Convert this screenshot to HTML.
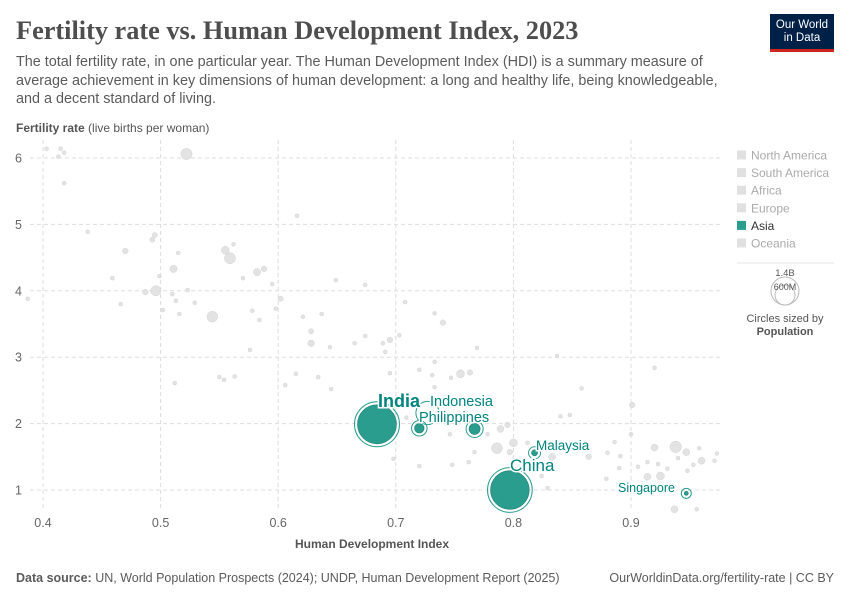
<!DOCTYPE html>
<html><head><meta charset="utf-8"><style>
body{margin:0;background:#fff;font-family:"Liberation Sans",sans-serif;}
#wrap{position:relative;width:850px;height:600px;overflow:hidden}
.t{position:absolute;white-space:nowrap}
</style></head><body>
<div id="wrap">
<div class="t" style="left:16px;top:16px;font-family:'Liberation Serif',serif;font-size:26.3px;font-weight:bold;color:#4e4e4e">Fertility rate vs. Human Development Index, 2023</div>
<div class="t" style="left:16px;top:53px;font-size:14.4px;line-height:18.5px;color:#5b5b5b">The total fertility rate, in one particular year. The Human Development Index (HDI) is a summary measure of<br>average achievement in key dimensions of human development: a long and healthy life, being knowledgeable,<br>and a decent standard of living.</div>
<div style="position:absolute;left:770px;top:14px;width:64px;height:38px;background:#002147;border-bottom:3px solid #ce261e;color:#fff;font-size:11.5px;line-height:13px;text-align:center;padding-top:5px;box-sizing:border-box">Our World<br>in Data</div>
<div class="t" style="left:16px;top:121px;font-size:12px;color:#555"><b>Fertility rate</b> (live births per woman)</div>
<div class="t" style="left:295px;top:537px;font-size:12px;font-weight:bold;color:#555">Human Development Index</div>
<div class="t" style="left:16px;top:571px;font-size:12.5px;color:#5b5b5b"><b>Data source:</b> UN, World Population Prospects (2024); UNDP, Human Development Report (2025)</div>
<div class="t" style="right:16px;top:571px;font-size:12.5px;color:#5b5b5b">OurWorldinData.org/fertility-rate | CC BY</div>
<svg id="chart" width="850" height="600" style="position:absolute;left:0;top:0" font-family="Liberation Sans, sans-serif"></svg>
</div>
<script>
const xTicks=[0.4,0.5,0.6,0.7,0.8,0.9];
const xTickLabels=["0.4","0.5","0.6","0.7","0.8","0.9"];
const yTicks=[1,2,3,4,5,6];
const yTickLabels=["1","2","3","4","5","6"];
const grayHdi=[.403,.415,.413,.418,.418,.522,.616,.438,.495,.493,.470,.515,.555,.559,.562,.511,.582,.588,.570,.595,.459,.499,.649,.674,.487,.496,.510,.523,.513,.529,.466,.502,.516,.544,.602,.598,.578,.584,.621,.637,.708,.628,.628,.644,.665,.674,.689,.695,.691,.703,.576,.695,.720,.387,.512,.550,.554,.563,.615,.634,.606,.645,.733,.740,.769,.837,.920,.731,.733,.747,.755,.763,.733,.858,.901,.709,.840,.848,.795,.789,.778,.746,.900,.786,.800,.812,.797,.767,.762,.698,.720,.748,.833,.864,.880,.886,.891,.890,.879,.824,.906,.914,.920,.923,.931,.938,.947,.940,.948,.953,.960,.958,.971,.973,.914,.925,.937,.956,.829];
const grayTfr=[6.14,6.14,6.02,6.08,5.62,6.06,5.13,4.89,4.84,4.77,4.6,4.57,4.61,4.49,4.70,4.33,4.28,4.33,4.19,4.10,4.19,4.22,4.16,4.09,3.98,4.0,3.95,4.01,3.85,3.82,3.80,3.71,3.65,3.61,3.88,3.73,3.70,3.56,3.61,3.65,3.83,3.39,3.21,3.15,3.21,3.32,3.21,3.26,3.08,3.33,3.11,2.76,2.81,3.88,2.61,2.70,2.66,2.71,2.75,2.70,2.58,2.52,3.66,3.52,3.14,3.02,2.84,2.73,2.93,2.69,2.75,2.77,2.55,2.53,2.28,2.09,2.11,2.13,1.98,1.92,1.84,1.84,1.84,1.63,1.71,1.71,1.57,1.57,1.42,1.47,1.36,1.38,1.50,1.50,1.56,1.72,1.51,1.33,1.17,1.21,1.35,1.42,1.64,1.39,1.32,1.65,1.57,1.48,1.29,1.38,1.44,1.63,1.44,1.55,1.20,1.21,0.71,0.71,1.03];
const grayPop=[15,15,15,15,15,120,15,15,25,25,30,15,60,115,15,50,50,30,15,15,15,15,15,15,30,100,15,15,15,15,15,15,15,110,25,15,15,15,15,15,15,25,40,15,15,15,15,30,15,15,15,15,15,15,15,15,15,15,15,15,15,15,15,30,15,15,15,15,15,15,60,30,15,15,30,15,15,15,30,45,15,15,15,110,60,15,30,15,15,15,15,15,45,30,15,15,15,15,15,15,15,15,45,15,15,125,45,15,15,15,45,15,15,15,45,60,45,15,15];
const asiaNames=["India","China","","Philippines","","Malaysia","Singapore"];
const asiaHdi=[0.684,0.797,0.720,0.767,0.727,0.818,0.947];
const asiaTfr=[1.99,1.0,1.93,1.92,2.16,1.56,0.95];
const asiaPop=[1430,1410,85,115,280,34,6];
const legendItems=["North America","South America","Africa","Europe","Asia","Oceania"];

const NS="http://www.w3.org/2000/svg";
const svg=document.getElementById('chart');
const X=v=>43+(v-0.4)*1176;
const Y=v=>158+(6-v)*66.4;
const R=p=>Math.max(2,19.5*Math.sqrt(p/1430));
function mk(tag,at,parent){const e=document.createElementNS(NS,tag);for(const k in at)e.setAttribute(k,at[k]);(parent||svg).appendChild(e);return e;}
xTicks.forEach((v,i)=>{
 const l=mk('line',{x1:X(v),x2:X(v),y1:140,y2:508,stroke:'#ddd','stroke-dasharray':'4,3'});
 
 
 const t=mk('text',{x:X(v),y:527,'text-anchor':'middle','font-size':12.5,fill:'#666'});t.textContent=xTickLabels[i];
 
 
});
yTicks.forEach((v,i)=>{
 const l=mk('line',{x1:30,x2:720,y1:Y(v),y2:Y(v),stroke:'#ddd','stroke-dasharray':'4,3'});
 
 
 const t=mk('text',{x:22,y:Y(v)+4.5,'text-anchor':'end','font-size':12.5,fill:'#666'});t.textContent=yTickLabels[i];
 
 
});
grayHdi.forEach((h,i)=>{
 const c=mk('circle',{cx:X(h),cy:Y(grayTfr[i]),r:R(grayPop[i]),fill:'#e0e0e0',stroke:'#d0d0d0','stroke-width':0.5,opacity:0.9});
 
 
});
asiaHdi.forEach((h,i)=>{
 const r=R(asiaPop[i]);
 const ring=mk('circle',{cx:X(h),cy:Y(asiaTfr[i]),r:r+3,fill:'none',stroke:'#2a9d8f','stroke-width':1});
 
 
 const c=mk('circle',{cx:X(h),cy:Y(asiaTfr[i]),r:r,fill:i==4?'none':'#2a9d8f',stroke:i==4?'none':'#1f7f74','stroke-width':0.6});
 
 
});
const labs=[["India",378,407,18,'bold'],["Indonesia",430,406,14.5,'normal'],["Philippines",419,422,14.5,'normal'],["Malaysia",536,450,13.5,'normal'],["China",510,471,17,'normal'],["Singapore",618,492,12.5,'normal']];
labs.forEach(l=>{
 const t=mk('text',{x:l[1],y:l[2],'font-size':l[3],'font-weight':l[4],fill:'#00847e',stroke:'#fff','stroke-width':3,'paint-order':'stroke'});t.textContent=l[0];
 
 
});
legendItems.forEach((n,i)=>{
 const y=155+i*17.6;
 const g=mk('g',{});
 
 
 mk('rect',{x:737,y:y-4.5,width:9,height:9,fill:n=='Asia'?'#2a9d8f':'#e0e0e0'},g);
 const t=mk('text',{x:751,y:y+4.5,'font-size':12,fill:n=='Asia'?'#333':'#aaa'},g);t.textContent=n;
});
mk('line',{x1:737,x2:834,y1:263,y2:263,stroke:'#e5e5e5'});
mk('circle',{cx:785,cy:291,r:14,fill:'none',stroke:'#bbb'});
mk('circle',{cx:785,cy:295,r:10,fill:'none',stroke:'#bbb'});
[["1.4B",785,276,9.5],["600M",785,290,9]].forEach(a=>{const t=mk('text',{x:a[1],y:a[2],'text-anchor':'middle','font-size':a[3],fill:'#555'});t.textContent=a[0];
 
 });
const s1=mk('text',{x:785,y:322,'text-anchor':'middle','font-size':11,fill:'#555'});s1.textContent="Circles sized by";


const s2=mk('text',{x:785,y:335,'text-anchor':'middle','font-size':11,'font-weight':'bold',fill:'#555'});s2.textContent="Population";


</script>
</body></html>
